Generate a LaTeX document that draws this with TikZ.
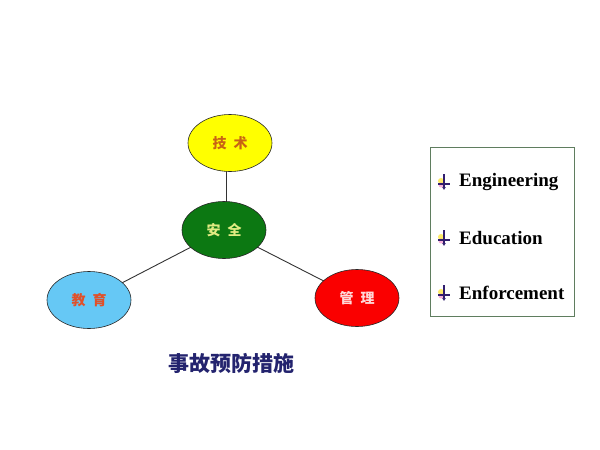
\documentclass[tikz,border=0pt]{standalone}
\usepackage{fontspec}
\setmainfont{Liberation Serif}
\newfontfamily\cjk{Noto Sans CJK SC}
\usetikzlibrary{arrows.meta,backgrounds,positioning,shapes.geometric}
\definecolor{techyellow}{RGB}{255,255,0}
\definecolor{techtext}{RGB}{200,100,20}
\definecolor{safegreen}{RGB}{12,120,18}
\definecolor{safetext}{RGB}{225,235,130}
\definecolor{mgmtred}{RGB}{250,0,0}
\definecolor{mgmttext}{RGB}{255,215,215}
\definecolor{edublue}{RGB}{102,200,245}
\definecolor{edutext}{RGB}{225,80,40}
\definecolor{capnavy}{RGB}{35,35,110}
\definecolor{boxgreen}{RGB}{95,125,95}
\definecolor{bulletblue}{RGB}{50,30,110}

\begin{document}
\begin{tikzpicture}[
  x=1pt, y=-1pt,
  pillar/.style={ellipse, draw=black!85, semithick, inner sep=0pt,
    minimum width=84pt, minimum height=57pt,
    font=\cjk\bfseries\fontsize{14}{16}\selectfont},
  link/.style={draw=black!80, line width=0.9pt},
  item/.style={anchor=west, inner sep=0pt,
    font=\bfseries\fontsize{19}{21}\selectfont},
  bulletmark/.style={draw=bulletblue, line width=1.1pt}
]
\useasboundingbox (0,0) rectangle (600,450);

\node[pillar, fill=techyellow, text=techtext] (tech) at (230,143) {技\hspace{7pt}术};
\node[pillar, fill=safegreen, text=safetext] (safety) at (224,230) {安\hspace{7pt}全};
\node[pillar, fill=edublue, text=edutext] (edu) at (89,300) {教\hspace{7pt}育};
\node[pillar, fill=mgmtred, text=mgmttext] (mgmt) at (357,298) {管\hspace{7pt}理};

\begin{scope}[on background layer]
\draw[link] ([xshift=2pt]safety.center) -- ([xshift=2pt]safety.center |- tech.center);
\draw[link] (safety.center) -- (edu.center);
\draw[link] (safety.center) -- (mgmt.center);
\end{scope}

\node[text=capnavy, font=\cjk\bfseries\fontsize{21}{23}\selectfont] (caption) at (231,363) {事故预防措施};

% the three E's
\node[draw=boxgreen, thin, minimum width=144pt, minimum height=169pt] (box) at (502,231.5) {};
\node[item] (eng) at (459,182) {Engineering};
\node[item] (educ) at (459,238) {Education};
\node[item] (enf) at (459,293) {Enforcement};

\foreach \n in {eng,educ,enf} {
  \coordinate (b) at ([xshift=-15pt]\n.west);
  \fill[yellow!80!orange, opacity=0.6] ([xshift=-3pt,yshift=1pt]b) circle (3pt);
  \fill[magenta!60, opacity=0.5] ([xshift=-3pt,yshift=-3pt]b) circle (2.5pt);
  \draw[bulletmark] ([xshift=-6pt,yshift=-2pt]b) -- ([xshift=6pt,yshift=-2pt]b);
  \draw[bulletmark, -{Latex[length=3pt,width=4pt]}] ([yshift=8pt]b) -- ([yshift=-8pt]b);
}
\end{tikzpicture}
\end{document}
